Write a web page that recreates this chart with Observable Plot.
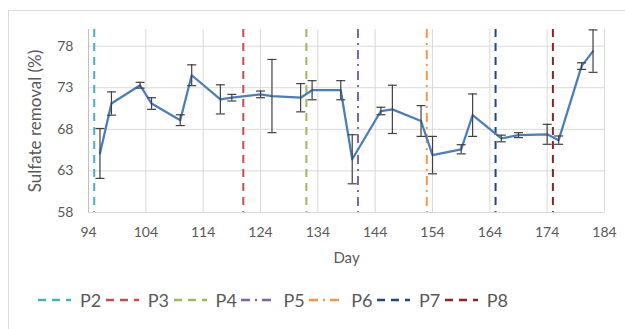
<!DOCTYPE html>
<html><head><meta charset="utf-8">
<script src="https://cdn.jsdelivr.net/npm/d3@7"></script>
<script src="https://cdn.jsdelivr.net/npm/@observablehq/plot@0.6"></script>
<style>
html,body{margin:0;padding:0;background:#fff;}
#page{position:relative;width:625px;height:329px;overflow:hidden;font-family:Lato,"Open Sans",sans-serif;}
#frame{position:absolute;left:8px;top:10px;width:700px;height:400px;border:1px solid #d9d9d9;}
#chart{position:absolute;left:0;top:0;}
#legend{position:absolute;left:0;top:289px;width:625px;height:22px;}
.item{position:absolute;top:0;height:22px;display:flex;align-items:center;font-size:18px;color:#595959;white-space:nowrap;}
.item svg{margin-right:9px;}
</style></head><body>
<div id="page"><div id="frame"></div><div id="chart"></div><div id="legend"></div></div>
<script>
// ---- data ----
const days = [96, 98, 103, 105, 110, 112, 117, 119, 124, 126, 131, 133, 138, 140, 145, 147, 152, 154, 159, 161, 166, 169, 174, 176, 180, 182];
const removal = [65.1, 71.1, 73.3, 71.1, 69.1, 74.5, 71.6, 71.8, 72.2, 72.0, 71.8, 72.7, 72.7, 64.4, 70.2, 70.4, 69.0, 64.9, 65.6, 69.7, 66.9, 67.3, 67.4, 66.7, 75.6, 77.4];
const errorBar = [3.0, 1.4, 0.35, 0.7, 0.65, 1.25, 1.75, 0.4, 0.4, 4.4, 1.7, 1.15, 1.15, 2.95, 0.45, 2.9, 1.85, 2.25, 0.55, 2.55, 0.4, 0.3, 1.2, 0.5, 0.4, 2.55];
const phaseNames = ["P2", "P3", "P4", "P5", "P6", "P7", "P8"];
const phaseDays = [95, 121, 132, 141, 153, 165, 175];
const xTicks = [94, 104, 114, 124, 134, 144, 154, 164, 174, 184];
const yTicks = [58, 63, 68, 73, 78];

// ---- styles ----
const phaseColors = ["#4bacc6", "#c0504d", "#9bbb59", "#8064a2", "#f79646", "#1f497d", "#8b2525"];
const DASH = "8,6", DASHDOT = "9,5,2,5";
const phaseDash = [DASH, DASH, DASH, DASHDOT, DASHDOT, DASH, DASH];

const data = days.map((d, i) => ({day: d, value: removal[i], lo: removal[i] - errorBar[i], hi: removal[i] + errorBar[i]}));
const phases = phaseNames.map((n, i) => ({name: n, day: phaseDays[i]}));

const cap = {draw(ctx) { ctx.moveTo(-4.5, 0); ctx.lineTo(4.5, 0); }};
const errColor = "#404040";

const plot = Plot.plot({
  width: 625, height: 270,
  marginLeft: 88, marginRight: 21, marginTop: 29, marginBottom: 58,
  style: {fontFamily: "Lato, sans-serif", fontSize: "14px", color: "#595959", background: "transparent", overflow: "visible"},
  x: {domain: [94, 184]},
  y: {domain: [58, 80]},
  marks: [
    Plot.gridX(xTicks, {stroke: "#d9d9d9", strokeOpacity: 1}),
    Plot.gridY(yTicks, {stroke: "#d9d9d9", strokeOpacity: 1}),
    Plot.ruleX([94], {stroke: "#bfbfbf"}),
    Plot.ruleY([58], {stroke: "#d9d9d9"}),
    ...phases.map((p, i) => Plot.ruleX([p], {x: "day", stroke: phaseColors[i], strokeWidth: 2, strokeDasharray: phaseDash[i]})),
    Plot.line(data, {x: "day", y: "value", stroke: "#4a7ebb", strokeWidth: 2.25}),
    Plot.ruleX(data, {x: "day", y1: "lo", y2: "hi", stroke: errColor, strokeWidth: 1.2}),
    Plot.dot(data, {x: "day", y: "lo", symbol: cap, stroke: errColor, strokeWidth: 1.2, r: 4}),
    Plot.dot(data, {x: "day", y: "hi", symbol: cap, stroke: errColor, strokeWidth: 1.2, r: 4}),
    Plot.axisX(xTicks, {tickSize: 0, tickPadding: 15, fontSize: 14, label: null}),
    Plot.axisX({tickSize: 0, ticks: [], label: "Day", labelAnchor: "center", labelOffset: 50, labelArrow: "none", fontSize: 15}),
    Plot.axisY(yTicks, {tickSize: 0, tickPadding: 15, fontSize: 14, label: null}),
    Plot.axisY({tickSize: 0, ticks: [], label: "Sulfate removal (%)", labelAnchor: "center", labelOffset: 60, labelArrow: "none", fontSize: 17})
  ]
});
document.getElementById("chart").appendChild(plot);

// ---- legend ----
const legend = document.getElementById("legend");
phases.forEach((p, i) => {
  const item = document.createElement("div");
  item.className = "item";
  item.style.left = (38 + i * 67.8) + "px";
  const svg = d3.create("svg").attr("width", 33).attr("height", 4);
  svg.append("line").attr("x1", 0).attr("x2", 33).attr("y1", 2).attr("y2", 2)
    .attr("stroke", phaseColors[i]).attr("stroke-width", 2.5).attr("stroke-dasharray", phaseDash[i]);
  item.appendChild(svg.node());
  const label = document.createElement("span");
  label.textContent = p.name;
  item.appendChild(label);
  legend.appendChild(item);
});
</script>
</body></html>
